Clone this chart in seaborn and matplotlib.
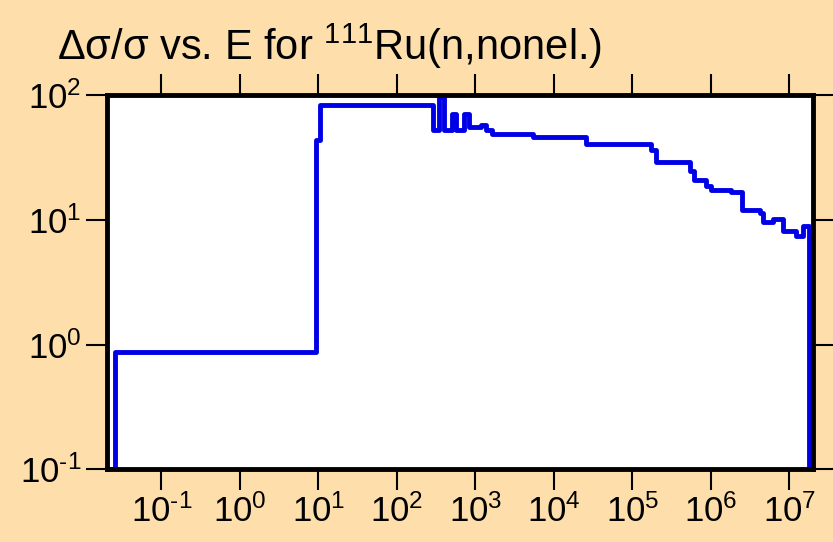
import matplotlib
matplotlib.use("Agg")
import matplotlib.pyplot as plt
from matplotlib import ticker
import numpy as np
import pandas as pd
import seaborn as sns

# Relative uncertainty of the 111Ru nonelastic cross section, group-wise (steps-post)
energy_ev = [0.02, 0.0253, 9.2, 10.6, 292, 340, 393, 497, 558, 706, 817,
             1178, 1365, 1630, 5450, 2.6e4, 1.74e5, 2.0e5, 5.45e5, 6.17e5,
             8.77e5, 1.0e6, 1.81e6, 2.5e6, 4.2e6, 4.55e6, 6.2e6, 8.3e6,
             1.21e7, 1.5e7, 1.79e7]
rel_unc_pct = [0.1, 0.875, 43.2, 83, 52, 96, 52, 71, 52, 70, 55,
               58, 52, 49, 46, 40.7, 36, 29.3, 24.4, 20.7,
               18.7, 17.2, 16.7, 12.0, 11.3, 9.6, 10.1, 8.06,
               7.35, 8.95, 0.05]

x_ticks = [1e-1, 1e0, 1e1, 1e2, 1e3, 1e4, 1e5, 1e6, 1e7]
y_ticks = [1e-1, 1e0, 1e1, 1e2]

df = pd.DataFrame({"E": energy_ev, "unc": rel_unc_pct})

sns.set_theme(style="white")
plt.rcParams["font.family"] = ["Liberation Sans", "DejaVu Sans"]
plt.rcParams["mathtext.fontset"] = "custom"
plt.rcParams["mathtext.rm"] = "Liberation Sans"
plt.rcParams["mathtext.it"] = "Liberation Sans"
plt.rcParams["axes.unicode_minus"] = False


def pow10_label(v, pos):
    # decade label with a short hyphen for negative exponents
    e = int(round(np.log10(v)))
    exp = ("\u2010%d" % -e) if e < 0 else "%d" % e
    return r"$\mathrm{10}^{\mathrm{%s}}$" % exp


bg = "#fedfab"
fig = plt.figure(figsize=(8.33, 5.42), dpi=100, facecolor=bg)
ax = fig.add_axes([0.1279, 0.1340, 0.8481, 0.6907])
ax.set_facecolor("white")

sns.lineplot(data=df, x="E", y="unc", ax=ax, estimator=None, sort=False,
             color="#0000e6", linewidth=3.5, drawstyle="steps-post")

ax.set_xscale("log")
ax.set_yscale("log")
ax.set_xlim(0.02, 2e7)
ax.set_ylim(0.1, 100)
ax.set_xlabel("")
ax.set_ylabel("")

ax.xaxis.set_major_locator(ticker.FixedLocator(x_ticks))
ax.yaxis.set_major_locator(ticker.FixedLocator(y_ticks))
ax.xaxis.set_minor_locator(ticker.NullLocator())
ax.yaxis.set_minor_locator(ticker.NullLocator())
ax.xaxis.set_major_formatter(ticker.FuncFormatter(pow10_label))
ax.yaxis.set_major_formatter(ticker.FuncFormatter(pow10_label))

for s in ax.spines.values():
    s.set_visible(True)
    s.set_color("black")
    s.set_linewidth(3.5)
    s.set_zorder(5)

ax.tick_params(axis="both", which="major", direction="out", length=15, width=1.5,
               color="black", labelsize=25, labelcolor="black",
               top=True, right=True, bottom=True, left=True,
               labeltop=False, labelright=False)
ax.tick_params(axis="x", pad=3)
ax.tick_params(axis="y", pad=3)

fig.text(57 / 833, 1 - 60 / 542, r"Δσ/σ vs. E for $^{111}$Ru(n,nonel.)",
         fontsize=30, color="black", ha="left", va="baseline")

fig.savefig("out.png", dpi=100, facecolor=bg)
